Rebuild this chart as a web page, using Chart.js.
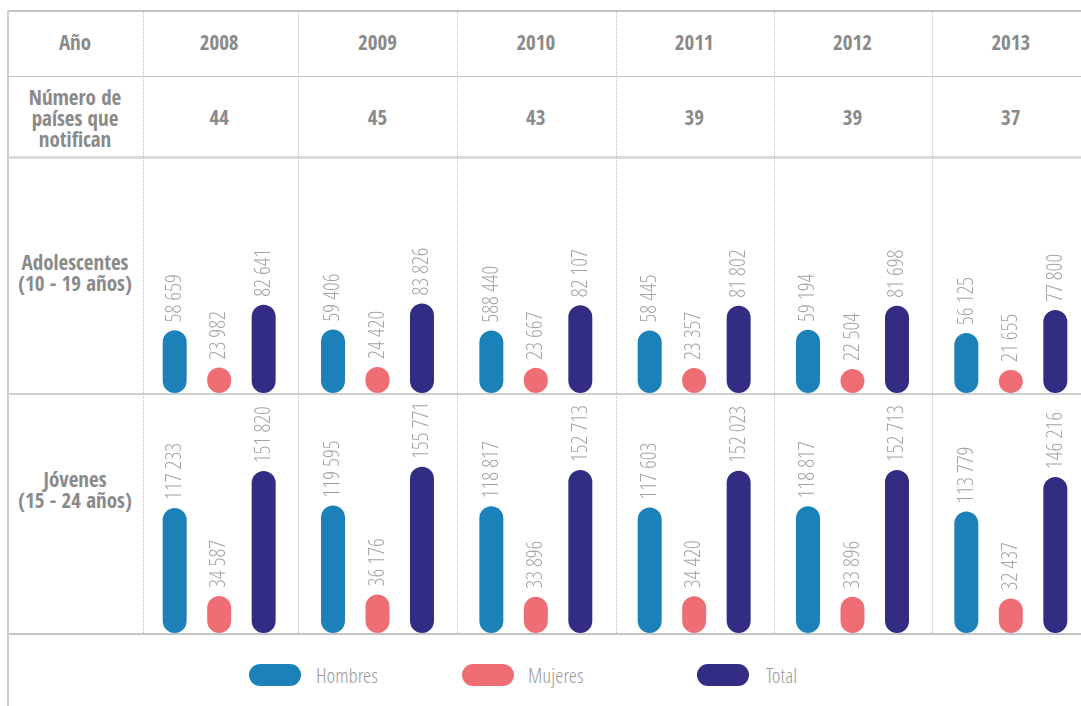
<!DOCTYPE html>
<html>
<head>
<meta charset="utf-8">
<script src="https://cdn.jsdelivr.net/npm/chart.js@4.4.1/dist/chart.umd.min.js"></script>
<style>
  html, body { margin: 0; padding: 0; background: #fff; overflow: hidden; }
  #wrap { position: relative; width: 1081px; height: 706px; overflow: hidden; }
  .hl, .vl { position: absolute; }
  .txt {
    position: absolute; color: #8a8a8a; font-weight: 700; font-size: 21px;
    font-family: 'Open Sans Condensed', 'Open Sans', 'Liberation Sans Narrow', sans-serif;
    font-stretch: 75%; text-align: center; line-height: 21px; transform: translateX(-50%);
    white-space: nowrap;
  }
  .leg {
    position: absolute; color: #9a9a9a; font-size: 21px;
    line-height: 22px; white-space: nowrap; transform-origin: 0 50%;
  }
  .pill { position: absolute; width: 52px; height: 22px; border-radius: 11px; }
  canvas { position: absolute; }
</style>
</head>
<body>
<div id="wrap">
  <canvas id="c1" width="950" height="236" style="left:140px;top:157px;width:950px;height:236px"></canvas>
  <canvas id="c2" width="950" height="239" style="left:140px;top:394px;width:950px;height:239px"></canvas>
</div>
<script>
// ---------- data ----------
const years = ['2008', '2009', '2010', '2011', '2012', '2013'];
const countries = [44, 45, 43, 39, 39, 37];

const seriesNames = ['Hombres', 'Mujeres', 'Total'];
const seriesColors = ['#1d81b9', '#ef6d74', '#322c83'];

const adolHombres = [58659, 59406, 58440, 58445, 59194, 56125];
const adolMujeres = [23982, 24420, 23667, 23357, 22504, 21655];
const adolTotal   = [82641, 83826, 82107, 81802, 81698, 77800];
// label printed in the source for 2010 (Hombres, adolescentes) contains a typo
const adolHombresPrinted = [null, null, '588 440', null, null, null];

const jovHombres = [117233, 119595, 118817, 117603, 118817, 113779];
const jovMujeres = [34587, 36176, 33896, 34420, 33896, 32437];
const jovTotal   = [151820, 155771, 152713, 152023, 152713, 146216];

const rowLabels = {
  year: 'Año',
  count: ['Número de', 'países que', 'notifican'],
  adol: ['Adolescentes', '(10 - 19 años)'],
  jov: ['Jóvenes', '(15 - 24 años)']
};

// ---------- font choice for the light condensed texts ----------
const mctx = document.createElement('canvas').getContext('2d');
function hasFont(f) {
  const s = '58 659 Hombres Mujeres';
  mctx.font = `300 40px '${f}', monospace`;
  const a = mctx.measureText(s).width;
  mctx.font = '300 40px monospace';
  return Math.abs(a - mctx.measureText(s).width) > 0.5;
}
let lightFam = null;
for (const f of ['Open Sans Condensed Light', 'Open Sans Cond Light', 'OpenSans-CondLight', 'Open Sans Condensed:light']) {
  if (hasFont(f)) { lightFam = f; break; }
}
let LABEL_FONT, SQUISH;
if (lightFam) {
  LABEL_FONT = `300 22px '${lightFam}'`;
  SQUISH = 1;
} else {
  LABEL_FONT = "300 22px 'Open Sans', 'Liberation Sans Narrow', sans-serif";
  mctx.font = LABEL_FONT;
  SQUISH = Math.min(1, 8.1 / mctx.measureText('0').width);
}

// ---------- helpers ----------
const wrap = document.getElementById('wrap');
function fmt(v) { return String(v).replace(/\B(?=(\d{3})+(?!\d))/g, ' '); }
function addDiv(cls, style, html) {
  const d = document.createElement('div');
  d.className = cls; d.setAttribute('style', style);
  if (html !== undefined) d.innerHTML = html;
  wrap.appendChild(d);
  return d;
}

// table lines
addDiv('hl', 'left:7px;top:10px;width:1074px;height:1.5px;background:#c4c4c4');
addDiv('hl', 'left:7px;top:75.5px;width:1074px;height:1.5px;background:#c4c4c4');
addDiv('hl', 'left:7px;top:156px;width:1074px;height:3px;background:#dcdcdc');
addDiv('hl', 'left:7px;top:392.5px;width:1074px;height:2px;background:#cfcfcf');
addDiv('hl', 'left:7px;top:632.5px;width:1074px;height:2px;background:#c4c4c4');
addDiv('vl', 'left:7px;top:10px;width:2px;height:696px;background:#cfcfcf');
[142.5, 298, 457, 616, 774, 932].forEach(x => {
  addDiv('vl', `left:${x}px;top:11px;width:0;height:622px;border-left:1px dotted #bdbdbd`);
});

// left column labels
addDiv('txt', 'left:75px;top:32px', rowLabels.year);
addDiv('txt', 'left:75px;top:87px', rowLabels.count.join('<br>'));
addDiv('txt', 'left:75px;top:252px', rowLabels.adol.join('<br>'));
addDiv('txt', 'left:75px;top:469px', rowLabels.jov.join('<br>'));

// legend
const legX = [[249, 316], [462, 528], [697, 766]];
seriesNames.forEach((n, i) => {
  addDiv('pill', `left:${legX[i][0]}px;top:664px;background:${seriesColors[i]}`);
  const d = addDiv('leg', `left:${legX[i][1]}px;top:664px`, n);
  d.style.font = LABEL_FONT.replace('22px', '21px');
  d.style.lineHeight = '22px';
  if (SQUISH < 1) d.style.transform = `scaleX(${SQUISH})`;
});

// ---------- charts ----------
const valueLabels = {
  id: 'valueLabels',
  afterDatasetsDraw(chart) {
    const ctx = chart.ctx;
    ctx.save();
    ctx.fillStyle = '#a3a3a3';
    ctx.font = LABEL_FONT;
    ctx.textAlign = 'left';
    ctx.textBaseline = 'middle';
    chart.data.datasets.forEach((ds, di) => {
      const meta = chart.getDatasetMeta(di);
      meta.data.forEach((el, i) => {
        const txt = (ds.printed && ds.printed[i]) || fmt(ds.data[i]);
        ctx.save();
        ctx.translate(el.x + 0.5, el.y - 8);
        ctx.rotate(-Math.PI / 2);
        ctx.scale(SQUISH, 1);
        ctx.fillText(txt, 0, 0);
        ctx.restore();
      });
    });
    ctx.restore();
  }
};

function makeChart(id, sets, yMax, printed) {
  return new Chart(document.getElementById(id), {
    type: 'bar',
    data: {
      labels: years,
      datasets: sets.map((d, i) => ({
        label: seriesNames[i],
        data: d,
        printed: i === 0 ? printed : null,
        backgroundColor: seriesColors[i],
        borderRadius: 12,
        borderSkipped: false,
        categoryPercentage: 0.843,
        barPercentage: 0.539
      }))
    },
    options: {
      responsive: false,
      animation: false,
      layout: { padding: 0 },
      plugins: { legend: { display: false }, tooltip: { enabled: false } },
      scales: {
        x: { display: false, offset: true },
        y: { display: false, min: 0, max: yMax }
      }
    },
    plugins: [valueLabels]
  });
}

const ch1 = makeChart('c1', [adolHombres, adolMujeres, adolTotal], 221000, adolHombresPrinted);
const ch2 = makeChart('c2', [jovHombres, jovMujeres, jovTotal], 224000, null);

// header cells placed at the category centres of the chart's x scale
const xs = ch1.scales.x;
years.forEach((y, i) => {
  const cx = 140 + xs.getPixelForValue(i);
  addDiv('txt', `left:${cx}px;top:32px`, y);
  addDiv('txt', `left:${cx}px;top:107px`, countries[i]);
});
</script>
</body>
</html>
